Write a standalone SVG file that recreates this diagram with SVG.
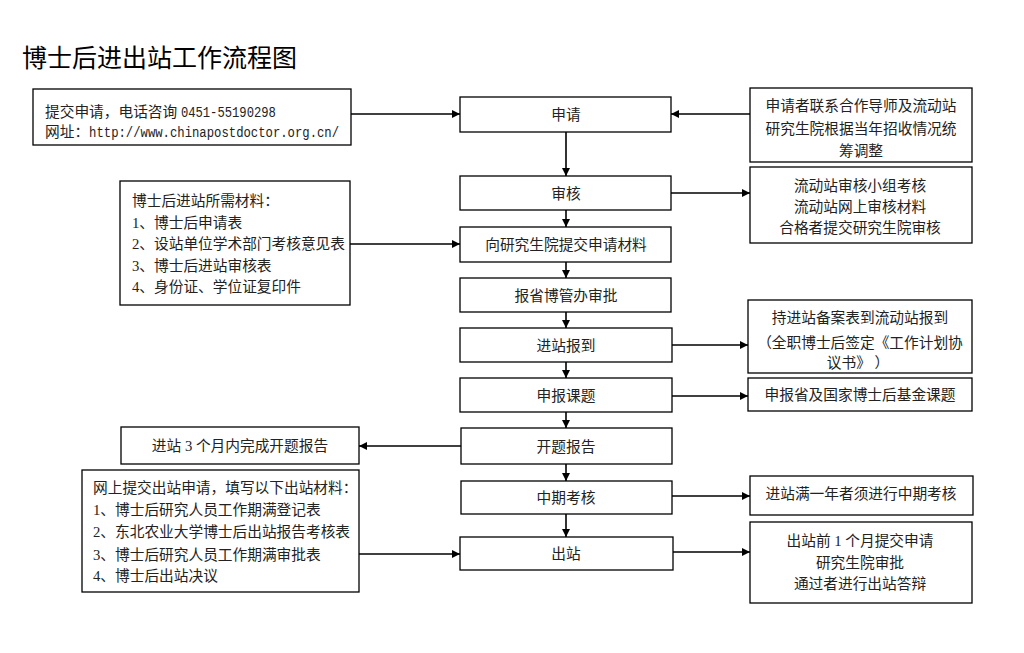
<svg xmlns="http://www.w3.org/2000/svg" width="1024" height="653" viewBox="0 0 1024 653">
<style>
.bx{fill:#fff;stroke:#000;stroke-width:1.3}
.t{font-family:"Liberation Serif","Noto Sans CJK SC",serif;font-size:14.7px;fill:#222}
.c{text-anchor:middle}
.m{font-family:"Liberation Mono","Noto Sans CJK SC",monospace;font-size:14.7px}
.ln{stroke:#000;stroke-width:1.6;fill:none;marker-end:url(#ah)}
.title{font-family:"Noto Sans CJK SC","Noto Sans",sans-serif;font-size:25px;fill:#000}
</style>
<defs>
<marker id="ah" viewBox="0 0 10 10" refX="10" refY="5" markerWidth="9" markerHeight="8" markerUnits="userSpaceOnUse" orient="auto">
<path d="M0,0 L10,5 L0,10 Z" fill="#000"/>
</marker>
</defs>
<rect width="1024" height="653" fill="#fff"/>
<text class="title" x="22" y="67">博士后进出站工作流程图</text>

<g id="connectors">
<line class="ln" x1="351" y1="114" x2="460" y2="114"/>
<line class="ln" x1="750" y1="114" x2="671" y2="114"/>
<line class="ln" x1="566" y1="132" x2="566" y2="176"/>
<line class="ln" x1="671" y1="193" x2="750" y2="193"/>
<line class="ln" x1="566" y1="210" x2="566" y2="227"/>
<line class="ln" x1="350" y1="244" x2="460" y2="244"/>
<line class="ln" x1="566" y1="262" x2="566" y2="278"/>
<line class="ln" x1="566" y1="312" x2="566" y2="328"/>
<line class="ln" x1="672" y1="345" x2="748" y2="345"/>
<line class="ln" x1="566" y1="362" x2="566" y2="378"/>
<line class="ln" x1="672" y1="396" x2="748" y2="396"/>
<line class="ln" x1="566" y1="412" x2="566" y2="428"/>
<line class="ln" x1="461" y1="446" x2="359" y2="446"/>
<line class="ln" x1="566" y1="464" x2="566" y2="481"/>
<line class="ln" x1="672" y1="496" x2="750" y2="496"/>
<line class="ln" x1="566" y1="514" x2="566" y2="537"/>
<line class="ln" x1="359" y1="554" x2="460" y2="554"/>
<line class="ln" x1="673" y1="552" x2="750" y2="552"/>
</g>

<g id="n-apply"><rect class="bx" x="460" y="97" width="211" height="35"/><text class="t c" x="566" y="120">申请</text></g>
<g id="n-review"><rect class="bx" x="460" y="176" width="211" height="34"/><text class="t c" x="566" y="198.5">审核</text></g>
<g id="n-submit"><rect class="bx" x="460" y="227" width="211" height="35"/><text class="t c" x="566" y="250">向研究生院提交申请材料</text></g>
<g id="n-approve"><rect class="bx" x="460" y="278" width="211" height="34"/><text class="t c" x="566" y="300.5">报省博管办审批</text></g>
<g id="n-report"><rect class="bx" x="460" y="328" width="212" height="34"/><text class="t c" x="566" y="350.5">进站报到</text></g>
<g id="n-topic"><rect class="bx" x="460" y="378" width="212" height="34"/><text class="t c" x="566" y="400.5">申报课题</text></g>
<g id="n-open"><rect class="bx" x="461" y="428" width="211" height="36"/><text class="t c" x="566" y="451.5">开题报告</text></g>
<g id="n-mid"><rect class="bx" x="461" y="481" width="211" height="33"/><text class="t c" x="566" y="503">中期考核</text></g>
<g id="n-exit"><rect class="bx" x="460" y="537" width="213" height="33"/><text class="t c" x="566" y="559">出站</text></g>

<g id="l-contact"><rect class="bx" x="33" y="89" width="318" height="56"/>
<text class="t" x="45" y="117">提交申请，电话咨询 <tspan class="m" textLength="95" lengthAdjust="spacingAndGlyphs">0451-55190298</tspan></text>
<text class="t" x="45" y="137">网址：<tspan class="m" textLength="250" lengthAdjust="spacingAndGlyphs">http://www.chinapostdoctor.org.cn/</tspan></text></g>

<g id="l-materials"><rect class="bx" x="120" y="181" width="230" height="124"/>
<text class="t" x="132" y="206">博士后进站所需材料：</text>
<text class="t" x="132" y="227.5">1、博士后申请表</text>
<text class="t" x="132" y="249">2、设站单位学术部门考核意见表</text>
<text class="t" x="132" y="270.5">3、博士后进站审核表</text>
<text class="t" x="132" y="292">4、身份证、学位证复印件</text></g>

<g id="l-open"><rect class="bx" x="121" y="427" width="238" height="37"/><text class="t c" x="240" y="450.5">进站 3 个月内完成开题报告</text></g>

<g id="l-exitmat"><rect class="bx" x="82" y="470" width="277" height="122"/>
<text class="t" x="93" y="492.5">网上提交出站申请，填写以下出站材料：</text>
<text class="t" x="93" y="514.5">1、博士后研究人员工作期满登记表</text>
<text class="t" x="93" y="537">2、东北农业大学博士后出站报告考核表</text>
<text class="t" x="93" y="559.5">3、博士后研究人员工作期满审批表</text>
<text class="t" x="93" y="581">4、博士后出站决议</text></g>

<g id="r-contact"><rect class="bx" x="750" y="88" width="222" height="74"/>
<text class="t c" x="861" y="110.5">申请者联系合作导师及流动站</text>
<text class="t c" x="861" y="134">研究生院根据当年招收情况统</text>
<text class="t c" x="861" y="155.5">筹调整</text></g>

<g id="r-review"><rect class="bx" x="750" y="167" width="222" height="76"/>
<text class="t c" x="860" y="190.5">流动站审核小组考核</text>
<text class="t c" x="860" y="211.5">流动站网上审核材料</text>
<text class="t c" x="860" y="232.5">合格者提交研究生院审核</text></g>

<g id="r-report"><rect class="bx" x="748" y="300" width="224" height="73"/>
<text class="t c" x="860" y="322.5">持进站备案表到流动站报到</text>
<text class="t c" x="860" y="347.5">（全职博士后签定《工作计划协</text>
<text class="t c" x="858" y="367.5">议书》 ）</text></g>

<g id="r-topic"><rect class="bx" x="748" y="378" width="224" height="33"/><text class="t c" x="860" y="400">申报省及国家博士后基金课题</text></g>

<g id="r-mid"><rect class="bx" x="750" y="476" width="223" height="39"/><text class="t c" x="861" y="498.5">进站满一年者须进行中期考核</text></g>

<g id="r-exit"><rect class="bx" x="750" y="522" width="222" height="81"/>
<text class="t c" x="860" y="545.5">出站前 1 个月提交申请</text>
<text class="t c" x="860" y="567.5">研究生院审批</text>
<text class="t c" x="860" y="588.5">通过者进行出站答辩</text></g>
</svg>
